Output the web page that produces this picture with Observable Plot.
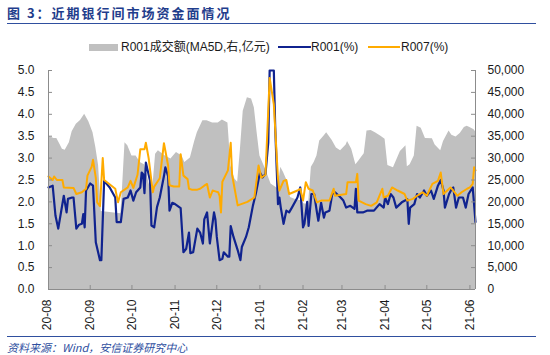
<!DOCTYPE html>
<html><head><meta charset="utf-8">
<script src="https://cdn.jsdelivr.net/npm/d3@7"></script>
<script src="https://cdn.jsdelivr.net/npm/@observablehq/plot@0.6"></script>
<style>
body{margin:0;background:#fff;}
#wrap{position:relative;width:550px;height:355px;overflow:hidden;font-family:"Liberation Sans",Arial,"Noto Sans CJK SC",sans-serif;color:#1a1a1a;}
#chart{position:absolute;left:0;top:0;}
#title{position:absolute;left:7px;top:4px;font-family:"Noto Sans CJK SC",sans-serif;font-weight:bold;font-size:13px;line-height:18px;color:#1f3d8c;letter-spacing:2px;white-space:nowrap;}
.hr{position:absolute;left:7px;width:529px;height:1px;background:#2f4f9f;}
.lg{position:absolute;font-size:12px;line-height:14px;white-space:nowrap;font-family:"Liberation Sans",Arial,"Noto Sans CJK SC",sans-serif;}
.sw{position:absolute;}
#src{position:absolute;left:7px;top:340px;font-size:11px;line-height:14px;font-style:italic;color:#2f4f9f;font-family:"Noto Sans CJK SC",sans-serif;white-space:nowrap;}
</style></head>
<body>
<div id="wrap">
  <div id="chart"></div>
  <div id="title">图 3：近期银行间市场资金面情况</div>
  <div class="hr" style="top:23px"></div>
  <div class="sw" style="left:89px;top:44px;width:29px;height:7px;background:#c0c0c0"></div>
  <div class="lg" style="left:121px;top:40px">R001成交额(MA5D,右,亿元)</div>
  <div class="sw" style="left:278px;top:46px;width:33px;height:2px;background:#10238f"></div>
  <div class="lg" style="left:311px;top:40px">R001(%)</div>
  <div class="sw" style="left:368px;top:46px;width:32px;height:2px;background:#ffab00"></div>
  <div class="lg" style="left:401px;top:40px">R007(%)</div>
  <div class="hr" style="top:336px"></div>
  <div id="src">资料来源：Wind，安信证券研究中心</div>
</div>
<script>
// R001 成交额 (MA5D, 亿元) — right axis
const volDates = ["2020-08-02","2020-08-06","2020-08-08","2020-08-10","2020-08-12","2020-08-14","2020-08-17","2020-08-19","2020-08-22","2020-08-25","2020-08-28","2020-08-31","2020-09-03","2020-09-05","2020-09-07","2020-09-09","2020-09-23","2020-09-24","2020-09-26","2020-09-28","2020-10-01","2020-10-04","2020-10-07","2020-10-10","2020-10-12","2020-10-14","2020-10-16","2020-10-18","2020-10-20","2020-10-25","2020-10-29","2020-11-02","2020-11-06","2020-11-08","2020-11-12","2020-11-15","2020-11-17","2020-11-21","2020-11-24","2020-11-28","2020-12-02","2020-12-05","2020-12-09","2020-12-10","2020-12-11","2020-12-14","2020-12-16","2020-12-18","2020-12-20","2020-12-23","2020-12-26","2020-12-28","2020-12-30","2021-01-01","2021-01-03","2021-01-05","2021-01-09","2021-01-14","2021-01-16","2021-01-18","2021-01-21","2021-01-23","2021-01-27","2021-01-30","2021-02-02","2021-02-05","2021-02-07","2021-02-09","2021-02-11","2021-02-13","2021-02-16","2021-02-18","2021-02-22","2021-02-25","2021-02-28","2021-03-04","2021-03-05","2021-03-08","2021-03-11","2021-03-13","2021-03-17","2021-03-19","2021-03-22","2021-03-25","2021-03-29","2021-04-01","2021-04-03","2021-04-07","2021-04-10","2021-04-12","2021-04-16","2021-04-17","2021-04-19","2021-04-22","2021-04-24","2021-04-27","2021-04-30","2021-05-05","2021-05-07","2021-05-11","2021-05-13","2021-05-17","2021-05-19","2021-05-22","2021-05-25","2021-05-28","2021-05-30","2021-06-01","2021-06-04","2021-06-05"];
const volValues = [35000,34500,34500,33300,32000,31800,33500,36000,37700,38600,40000,38300,35800,32500,28300,17800,17300,22000,33500,32800,30500,30500,29000,28500,26000,23300,23300,30900,31700,30500,29800,31300,30500,29000,30000,33700,35800,38500,38500,38000,38000,38700,38000,33500,28300,25200,24500,32000,40700,43800,43500,41500,35800,30500,29000,27500,24100,23000,27900,26700,24500,21000,20500,20300,19500,19500,27900,29000,30500,33900,35000,35800,34000,32300,31700,33000,33800,32000,28500,29300,31000,36200,36300,35800,35000,34300,28300,27800,30000,31500,32800,28000,28500,30500,37300,36800,34500,34400,33000,31700,33800,36200,35200,34800,35600,37000,37300,37000,36500,36000];

// R001 (%)
const r001Dates = ["2020-08-02","2020-08-05","2020-08-07","2020-08-09","2020-08-13","2020-08-15","2020-08-16","2020-08-19","2020-08-20","2020-08-22","2020-08-24","2020-08-26","2020-08-27","2020-08-28","2020-08-29","2020-09-01","2020-09-03","2020-09-05","2020-09-08","2020-09-09","2020-09-11","2020-09-15","2020-09-19","2020-09-20","2020-09-23","2020-09-25","2020-09-28","2020-09-30","2020-10-02","2020-10-04","2020-10-07","2020-10-08","2020-10-09","2020-10-10","2020-10-11","2020-10-14","2020-10-15","2020-10-17","2020-10-19","2020-10-21","2020-10-24","2020-10-25","2020-10-27","2020-10-28","2020-10-30","2020-11-01","2020-11-05","2020-11-07","2020-11-09","2020-11-11","2020-11-12","2020-11-14","2020-11-17","2020-11-19","2020-11-21","2020-11-22","2020-11-24","2020-11-26","2020-11-29","2020-11-30","2020-12-01","2020-12-03","2020-12-05","2020-12-06","2020-12-09","2020-12-10","2020-12-11","2020-12-13","2020-12-16","2020-12-18","2020-12-19","2020-12-22","2020-12-24","2020-12-27","2020-12-29","2021-01-01","2021-01-03","2021-01-05","2021-01-07","2021-01-08","2021-01-11","2021-01-12","2021-01-14","2021-01-15","2021-01-16","2021-01-18","2021-01-20","2021-01-22","2021-01-24","2021-01-28","2021-01-30","2021-02-01","2021-02-02","2021-02-04","2021-02-05","2021-02-07","2021-02-09","2021-02-11","2021-02-12","2021-02-14","2021-02-16","2021-02-17","2021-02-20","2021-02-22","2021-02-24","2021-02-28","2021-03-02","2021-03-04","2021-03-07","2021-03-10","2021-03-11","2021-03-12","2021-03-16","2021-03-19","2021-03-24","2021-03-28","2021-03-31","2021-04-01","2021-04-03","2021-04-05","2021-04-07","2021-04-09","2021-04-13","2021-04-17","2021-04-18","2021-04-19","2021-04-22","2021-04-24","2021-04-26","2021-04-29","2021-05-01","2021-05-04","2021-05-06","2021-05-09","2021-05-11","2021-05-13","2021-05-14","2021-05-17","2021-05-19","2021-05-20","2021-05-22","2021-05-24","2021-05-27","2021-05-29","2021-05-31","2021-06-03","2021-06-05"];
const r001Values = [2.33,2.37,1.69,1.39,2.14,1.76,2.07,2.10,2.10,1.39,1.48,1.50,1.72,1.42,2.26,2.42,2.37,1.08,0.67,0.67,2.48,2.33,2.10,1.54,1.54,2.07,2.10,2.26,2.03,2.22,2.33,2.67,2.63,2.20,2.90,2.48,1.46,1.42,1.88,2.10,2.59,2.79,2.59,1.80,1.98,1.95,1.86,0.85,0.93,1.30,0.83,0.85,1.39,1.30,1.05,1.60,1.76,1.05,1.76,1.60,1.20,0.67,0.70,0.85,0.75,0.75,1.45,1.20,0.90,0.67,0.97,1.20,1.42,1.92,2.18,2.67,2.56,2.64,3.35,5.00,5.00,3.70,1.95,2.10,1.87,1.50,1.80,1.76,1.87,2.10,2.33,1.42,1.50,2.00,1.45,2.18,2.18,1.76,1.57,1.98,1.64,1.76,1.80,2.18,2.22,2.10,2.03,1.87,1.91,1.84,2.30,1.76,1.76,1.80,1.80,1.95,1.87,2.10,1.95,2.18,2.10,1.87,1.99,2.06,1.50,1.87,1.95,2.18,2.10,2.26,2.14,2.26,2.07,2.37,2.50,2.26,1.87,2.18,2.30,2.33,1.87,2.10,2.10,1.87,2.18,2.33,1.54];

// R007 (%)
const r007Dates = ["2020-08-02","2020-08-05","2020-08-06","2020-08-08","2020-08-12","2020-08-13","2020-08-20","2020-08-22","2020-08-26","2020-08-29","2020-08-30","2020-09-02","2020-09-03","2020-09-05","2020-09-06","2020-09-08","2020-09-10","2020-09-11","2020-09-19","2020-09-21","2020-09-23","2020-09-28","2020-09-30","2020-10-02","2020-10-05","2020-10-07","2020-10-10","2020-10-11","2020-10-13","2020-10-16","2020-10-17","2020-10-21","2020-10-24","2020-10-27","2020-10-28","2020-10-31","2020-11-04","2020-11-05","2020-11-07","2020-11-10","2020-11-11","2020-11-13","2020-11-17","2020-11-19","2020-11-22","2020-11-24","2020-11-26","2020-11-28","2020-11-30","2020-12-02","2020-12-03","2020-12-04","2020-12-05","2020-12-09","2020-12-11","2020-12-12","2020-12-16","2020-12-23","2020-12-28","2020-12-31","2021-01-02","2021-01-05","2021-01-08","2021-01-11","2021-01-14","2021-01-15","2021-01-18","2021-01-20","2021-01-22","2021-01-28","2021-01-30","2021-02-01","2021-02-03","2021-02-05","2021-02-08","2021-02-11","2021-02-14","2021-02-20","2021-02-23","2021-02-24","2021-03-04","2021-03-05","2021-03-11","2021-03-12","2021-03-13","2021-03-18","2021-03-22","2021-03-26","2021-03-30","2021-03-31","2021-04-03","2021-04-06","2021-04-10","2021-04-15","2021-04-17","2021-04-21","2021-04-24","2021-04-28","2021-05-01","2021-05-05","2021-05-09","2021-05-11","2021-05-13","2021-05-18","2021-05-20","2021-05-23","2021-05-26","2021-05-30","2021-06-01","2021-06-03","2021-06-04","2021-06-05"];
const r007Values = [2.58,2.50,2.58,2.50,2.50,2.33,2.32,2.18,2.22,2.30,2.60,2.80,2.96,2.55,1.99,1.90,3.00,2.50,2.30,1.99,2.22,2.33,2.48,2.32,2.62,3.20,3.20,3.35,3.00,2.22,2.35,2.54,3.34,2.83,2.38,2.35,2.35,3.09,2.60,2.52,2.30,2.28,2.28,2.30,2.37,2.41,2.10,2.26,2.24,2.22,2.14,1.76,2.46,2.72,3.35,2.62,1.92,2.00,2.10,2.83,2.55,2.62,4.83,4.23,2.53,2.26,2.48,2.50,2.18,2.26,2.30,2.03,2.45,2.30,2.26,1.99,2.03,2.03,2.30,2.14,2.18,2.45,2.45,2.64,2.03,1.95,1.91,1.99,2.30,2.10,2.14,2.33,2.26,2.18,2.03,2.07,2.14,2.22,2.14,2.41,2.48,2.67,2.18,2.33,2.26,2.14,2.22,2.30,2.33,2.41,2.79,2.72];

// axes
const monthTicks = ["2020-08-01","2020-09-01","2020-10-01","2020-11-01","2020-12-01","2021-01-01","2021-02-01","2021-03-01","2021-04-01","2021-05-01","2021-06-01"];
const monthLabels = ["20-08","20-09","20-10","20-11","20-12","21-01","21-02","21-03","21-04","21-05","21-06"];
const leftTicks = [0,0.5,1,1.5,2,2.5,3,3.5,4,4.5,5];
const rightLabels = ["0","5,000","10,000","15,000","20,000","25,000","30,000","35,000","40,000","45,000","50,000"];
const xStart = "2020-08-02", xEnd = "2021-06-05";

const parse = s => new Date(s + "T00:00:00Z");
const vol = volDates.map((d, i) => ({date: parse(d), value: volValues[i] / 10000}));
const r001 = r001Dates.map((d, i) => ({date: parse(d), value: r001Values[i]}));
const r007 = r007Dates.map((d, i) => ({date: parse(d), value: r007Values[i]}));
const months = monthTicks.map((d, i) => ({date: parse(d), label: monthLabels[i]}));
const x0 = parse(xStart), x1 = parse(xEnd);
const axisColor = "#8c8c8c";

const chart = Plot.plot({
  width: 550, height: 355,
  marginLeft: 48, marginRight: 75, marginTop: 70, marginBottom: 66,
  style: {fontFamily: '"Liberation Sans", Arial, sans-serif', fontSize: "12px", color: "#1a1a1a", background: "transparent", overflow: "visible"},
  x: {type: "utc", domain: [x0, x1], axis: null},
  y: {domain: [0, 5], axis: null},
  marks: [
    Plot.areaY(vol, {x: "date", y: "value", fill: "#c0c0c0"}),
    Plot.lineY(r001, {x: "date", y: "value", stroke: "#10238f", strokeWidth: 2.2, strokeLinejoin: "round"}),
    Plot.lineY(r007, {x: "date", y: "value", stroke: "#ffab00", strokeWidth: 2, strokeLinejoin: "round"}),
    Plot.ruleX([x0], {stroke: axisColor}),
    Plot.ruleX([x1], {stroke: axisColor}),
    Plot.ruleY([0], {stroke: axisColor}),
    Plot.ruleY(leftTicks, {y: d => d, x1: x0, x2: x0, insetRight: -4, stroke: axisColor}),
    Plot.ruleY(leftTicks, {y: d => d, x1: x1, x2: x1, insetLeft: -4, stroke: axisColor}),
    Plot.ruleX(months.slice(1), {x: "date", y1: 0, y2: 0, insetTop: -4, stroke: axisColor}),
    Plot.text(leftTicks, {x: x0, y: d => d, text: d => d3.format(".1f")(d), textAnchor: "end", dx: -14, fontSize: 12, fill: "#1a1a1a"}),
    Plot.text(leftTicks, {x: x1, y: d => d, text: (d, i) => rightLabels[i], textAnchor: "start", dx: 12, fontSize: 12, fill: "#1a1a1a"}),
    Plot.text(months, {x: "date", y: 0, text: "label", rotate: -90, textAnchor: "end", lineAnchor: "middle", dy: 10, fontSize: 12, fill: "#1a1a1a"})
  ]
});
document.getElementById("chart").appendChild(chart);
</script>
</body></html>
